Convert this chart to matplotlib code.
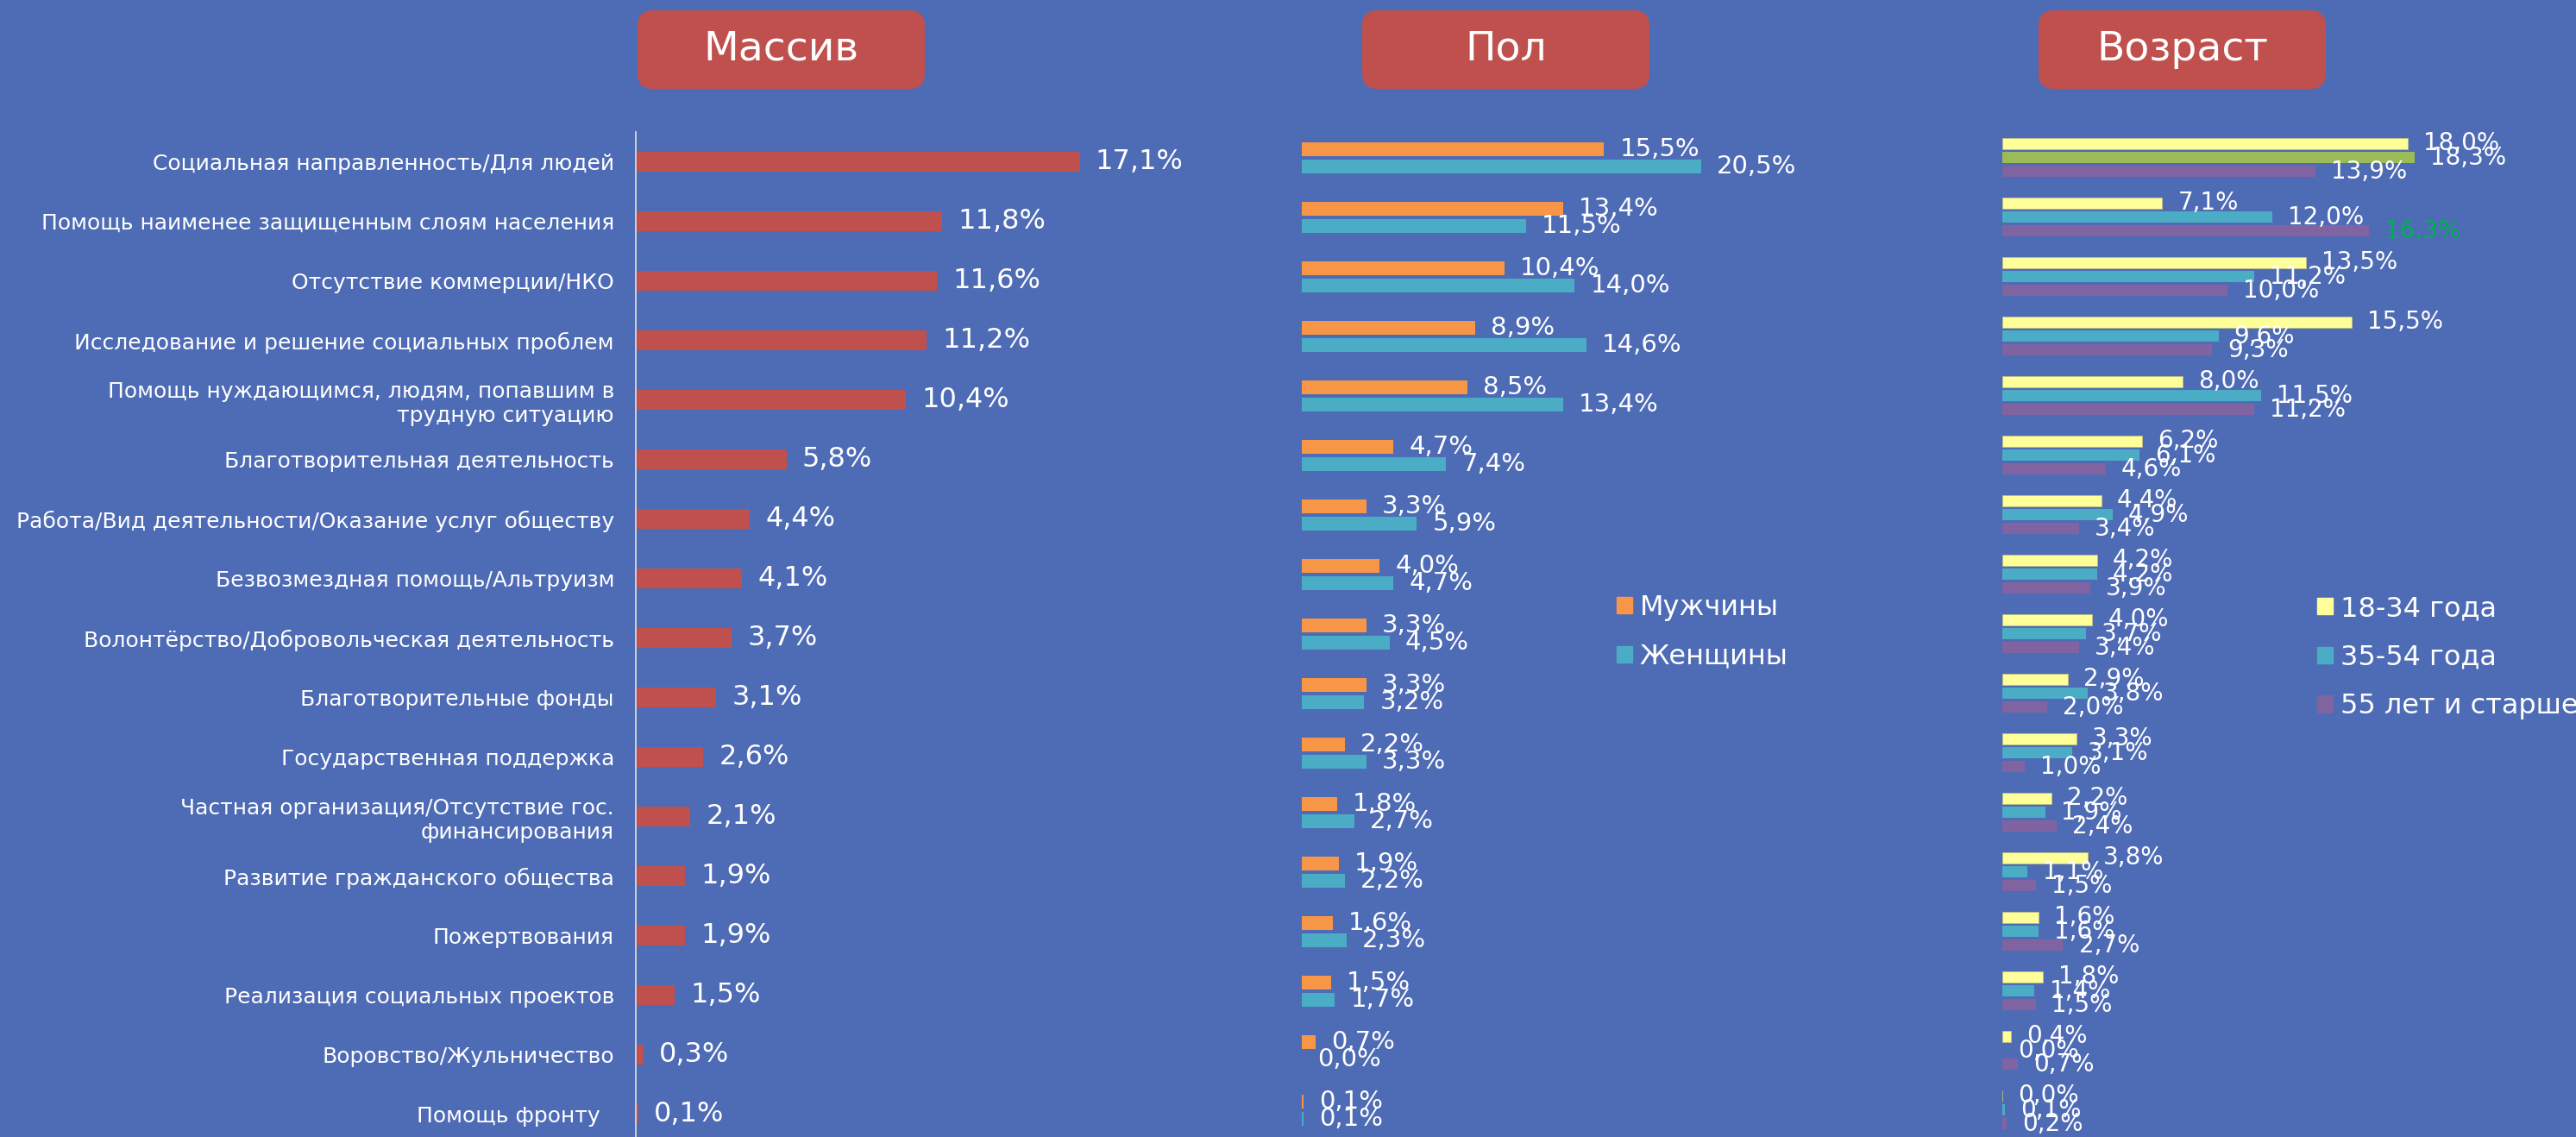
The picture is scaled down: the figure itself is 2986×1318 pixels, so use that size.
import numpy as np
import matplotlib
matplotlib.use("Agg")
import matplotlib.pyplot as plt
from matplotlib.patches import FancyBboxPatch, Patch

plt.rcParams['font.family'] = ['DejaVu Sans']

categories = [
    "Социальная направленность/Для людей",
    "Помощь наименее защищенным слоям населения",
    "Отсутствие коммерции/НКО",
    "Исследование и решение социальных проблем",
    "Помощь нуждающимся, людям, попавшим в\nтрудную ситуацию",
    "Благотворительная деятельность",
    "Работа/Вид деятельности/Оказание услуг обществу",
    "Безвозмездная помощь/Альтруизм",
    "Волонтёрство/Добровольческая деятельность",
    "Благотворительные фонды",
    "Государственная поддержка",
    "Частная организация/Отсутствие гос.\nфинансирования",
    "Развитие гражданского общества",
    "Пожертвования",
    "Реализация социальных проектов",
    "Воровство/Жульничество",
    "Помощь фронту  ",
]
total = [17.1, 11.8, 11.6, 11.2, 10.4, 5.8, 4.4, 4.1, 3.7, 3.1, 2.6, 2.1, 1.9, 1.9, 1.5, 0.3, 0.1]
men = [15.5, 13.4, 10.4, 8.9, 8.5, 4.7, 3.3, 4.0, 3.3, 3.3, 2.2, 1.8, 1.9, 1.6, 1.5, 0.7, 0.1]
women = [20.5, 11.5, 14.0, 14.6, 13.4, 7.4, 5.9, 4.7, 4.5, 3.2, 3.3, 2.7, 2.2, 2.3, 1.7, 0.0, 0.1]
age_18_34 = [18.0, 7.1, 13.5, 15.5, 8.0, 6.2, 4.4, 4.2, 4.0, 2.9, 3.3, 2.2, 3.8, 1.6, 1.8, 0.4, 0.0]
age_35_54 = [18.3, 12.0, 11.2, 9.6, 11.5, 6.1, 4.9, 4.2, 3.7, 3.8, 3.1, 1.9, 1.1, 1.6, 1.4, 0.0, 0.1]
age_55 = [13.9, 16.3, 10.0, 9.3, 11.2, 4.6, 3.4, 3.9, 3.4, 2.0, 1.0, 2.4, 1.5, 2.7, 1.5, 0.7, 0.2]

gender_labels = ["Мужчины", "Женщины"]
age_labels = ["18-34 года", "35-54 года", "55 лет и старше"]
headers = ["Массив", "Пол", "Возраст"]

BG = '#4E6BB5'
RED = '#C0504D'
ORANGE = '#F79646'
TEAL = '#4BACC6'
PURPLE = '#8064A2'
YELLOW = '#FFFF99'
GREEN = '#9BBB59'

W, H = 2986, 1318
fig = plt.figure(figsize=(W / 100, H / 100), dpi=100)
fig.patch.set_facecolor(BG)


def px_axes(left, top, width, height):
    # axes placed by pixel box (top-left origin)
    ax = fig.add_axes([left / W, 1 - (top + height) / H, width / W, height / H])
    ax.set_facecolor('none')
    for s in ax.spines.values():
        s.set_visible(False)
    ax.set_xticks([])
    ax.set_yticks([])
    return ax


def fmt(v):
    return "{:.1f}%".format(v).replace('.', ',')


def put_labels(ax, vals, ys, size, colors=None):
    for i, (v, y) in enumerate(zip(vals, ys)):
        c = 'white' if colors is None else colors[i]
        ax.annotate(fmt(v), xy=(v, y), xytext=(13, 0), textcoords='offset points',
                    va='center', ha='left', color=c, fontsize=size)


def side_legend(ax, colors, labels, x, y):
    ax.legend([Patch(color=c) for c in colors], labels,
              loc='upper left', bbox_to_anchor=(x / W, 1 - y / H),
              bbox_transform=fig.transFigure, frameon=False, fontsize=23,
              labelcolor='white', handlelength=0.56, handleheight=0.56,
              handletextpad=0.28, labelspacing=0.8, borderaxespad=0, borderpad=0)


n = len(categories)
y = np.arange(n)

# --- panel 1: total
ax1 = px_axes(737, 153, 700, 1173)
ax1.barh(y, total, height=0.33, color=RED)
ax1.set_xlim(0, 700 / 30.1)
ax1.set_ylim(n - 0.5, -0.5)
ax1.spines['left'].set_visible(True)
ax1.spines['left'].set_color('#D9D9D9')
ax1.spines['left'].set_linewidth(1.3)
ax1.set_yticks(y)
ax1.set_yticklabels(categories, fontsize=18, color='white')
ax1.tick_params(axis='y', length=0, pad=18)
put_labels(ax1, total, y, 23)

# --- panel 2: gender
ax2 = px_axes(1509, 148.5, 700, 1173)
off2 = 0.152
h2 = 0.232
ax2.barh(y - off2, men, height=h2, color=ORANGE)
ax2.barh(y + off2, women, height=h2, color=TEAL)
ax2.set_xlim(0, 700 / 22.6)
ax2.set_ylim(n - 0.5, -0.5)
put_labels(ax2, men, y - off2, 21)
put_labels(ax2, women, y + off2, 21)
side_legend(ax2, [ORANGE, TEAL], gender_labels, 1874, 689)

# --- panel 3: age
ax3 = px_axes(2321, 148, 665, 1173)
off3 = 0.234
h3 = 0.18
age_colors = [TEAL] * n
age_colors[0] = GREEN
lbl55_colors = ['white'] * n
lbl55_colors[1] = '#00B050'
ax3.barh(y - off3, age_18_34, height=h3, color=YELLOW, edgecolor='#BFBF80', linewidth=0.6)
ax3.barh(y, age_35_54, height=h3, color=age_colors)
ax3.barh(y + off3, age_55, height=h3, color=PURPLE)
ax3.set_xlim(0, 665 / 26.1)
ax3.set_ylim(n - 0.5, -0.5)
put_labels(ax3, age_18_34, y - off3, 20)
put_labels(ax3, age_35_54, y, 20)
put_labels(ax3, age_55, y + off3, 20, lbl55_colors)
side_legend(ax3, [YELLOW, TEAL, PURPLE], age_labels, 2686, 690)

# --- header boxes
for text, x0 in zip(headers, [739, 1579, 2363]):
    bw, bh, y0 = 333, 91, 12
    box = FancyBboxPatch((x0 / W, 1 - (y0 + bh) / H), bw / W, bh / H,
                         boxstyle="round,pad=0,rounding_size=0.006",
                         transform=fig.transFigure, facecolor=RED, edgecolor='none',
                         mutation_aspect=W / H)
    fig.patches.append(box)
    fig.text((x0 + bw / 2) / W, 1 - (y0 + bh / 2) / H, text, ha='center', va='center',
             color='white', fontsize=34)

fig.savefig("out.png", dpi=100, facecolor=BG)
